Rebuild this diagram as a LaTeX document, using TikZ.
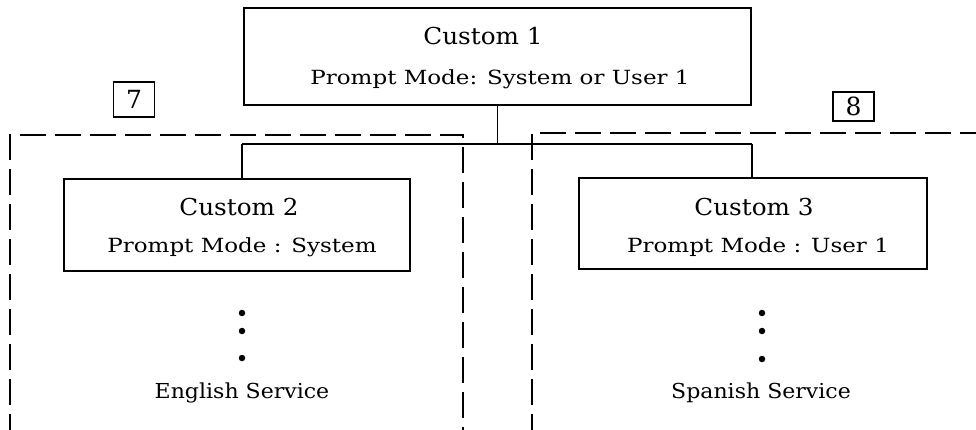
\documentclass[tikz,border=0pt]{standalone}
\usepackage{fontspec}
\setmainfont{DejaVu Serif}
\newfontfamily\ftitle{DejaVu Serif}[FakeStretch=1.06]
\newfontfamily\fprompt{DejaVu Serif}[FakeStretch=1.18]
\newfontfamily\fserv{DejaVu Serif}[FakeStretch=1.07]
\begin{document}
\begin{tikzpicture}[x=1pt,y=-1pt,
  box/.style={draw,line width=1.7pt,inner sep=0pt},
  tag/.style={draw,line width=1.5pt,inner sep=0pt,minimum width=41pt,font=\fontsize{25}{28}\selectfont},
  ttl/.style={anchor=base,inner sep=0pt,font=\fontsize{23.3}{26}\ftitle},
  prm/.style={anchor=base,inner sep=0pt,font=\fontsize{19.5}{22}\fprompt},
  srv/.style={anchor=base,inner sep=0pt,font=\fontsize{20.6}{23}\fserv},
  grp/.style={line width=2pt,dash pattern=on 26pt off 9pt},
  wire/.style={line width=1.3pt},
  dot/.style={circle,fill,inner sep=0pt,minimum size=6.5pt}]
\useasboundingbox (0,0) rectangle (976,430);
\clip (0,0) rectangle (976,430);
% group outlines
\coordinate (g7a) at (10,440);
\coordinate (g7b) at (10,135);
\coordinate (g7c) at (463,135);
\coordinate (g7d) at (463,440);
\draw[grp] (g7a) -- (g7b) -- (g7c) -- (g7d);
\coordinate (g8a) at (532,440);
\coordinate (g8b) at (532,133);
\coordinate (g8c) at (990,133);
\draw[grp] (g8a) -- (g8b) -- (g8c);
% tags
\node[tag,minimum height=35pt] (t7) at (134,99.5) {7};
\node[tag,minimum height=29pt] (t8) at (853.5,106.5) {8};
% boxes
\node[box,minimum width=507pt,minimum height=97pt] (c1) at (497.5,56.5) {};
\node[box,minimum width=346pt,minimum height=92pt] (c2) at (237,225) {};
\node[box,minimum width=348pt,minimum height=91pt] (c3) at (753,223.5) {};
% texts
\node[ttl] (c1t) at (483,45) {Custom 1};
\node[prm] (c1p) at (500,85) {Prompt Mode: System or User 1};
\node[ttl] (c2t) at (239,216) {Custom 2};
\node[prm] (c2p) at (242,252) {Prompt Mode : System};
\node[ttl] (c3t) at (754,216) {Custom 3};
\node[prm] (c3p) at (758,252) {Prompt Mode : User 1};
% dots
\node[dot] (d1) at (242,313) {};
\node[dot] (d2) at (242,331) {};
\node[dot] (d3) at (242,358) {};
\node[dot] (e1) at (762,313) {};
\node[dot] (e2) at (762,331) {};
\node[dot] (e3) at (762,359) {};
\node[srv] (s1) at (242,398) {English Service};
\node[srv] (s2) at (761,398) {Spanish Service};
% connectors
\coordinate (j) at (497.5,144);
\coordinate (bl) at (242,144);
\coordinate (br) at (752,144);
\draw[wire] (c1.south) -- (j);
\draw[wire] (bl) -- (br);
\draw[wire] (bl) -- (bl |- c2.north);
\draw[wire] (br) -- (br |- c3.north);
\end{tikzpicture}
\end{document}
